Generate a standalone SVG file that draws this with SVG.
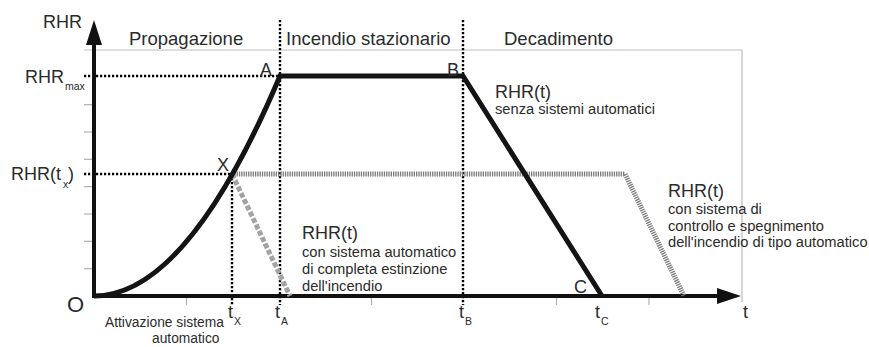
<svg xmlns="http://www.w3.org/2000/svg" width="869" height="347" viewBox="0 0 869 347">
<style>
text{font-family:"Liberation Sans",Arial,sans-serif;fill:#2b2b2b}
.ph{font-size:18.5px}
.big{font-size:18px}
.sm{font-size:14.7px}
.sub{font-size:10.5px}
.frame{stroke:#bdbdbd;stroke-width:1.2;fill:none}
.tick{stroke:#b0b0b0;stroke-width:1.2}
.dot{stroke:#000;stroke-width:2.4;stroke-dasharray:2.2 1.8;fill:none}
.thick{stroke:#141414;stroke-width:5;fill:none;stroke-linejoin:miter}
.axis{stroke:#111;stroke-width:4;fill:none}
</style>
<g id="frame">
<path class="frame" d="M84 50 H742 V302"/>
<g class="tick">
<line x1="84" y1="268.7" x2="93" y2="268.7"/>
<line x1="84" y1="241.3" x2="93" y2="241.3"/>
<line x1="84" y1="214" x2="93" y2="214"/>
<line x1="84" y1="186.7" x2="93" y2="186.7"/>
<line x1="84" y1="159.3" x2="93" y2="159.3"/>
<line x1="84" y1="132" x2="93" y2="132"/>
<line x1="84" y1="104.7" x2="93" y2="104.7"/>
<line x1="186.5" y1="297" x2="186.5" y2="305"/>
<line x1="371.5" y1="297" x2="371.5" y2="305"/>
<line x1="556.5" y1="297" x2="556.5" y2="305"/>
<line x1="649" y1="297" x2="649" y2="305"/>
</g>
</g>
<g id="guides">
<line class="dot" x1="84" y1="76" x2="280" y2="76"/>
<line class="dot" x1="84" y1="174" x2="232" y2="174"/>
<line class="dot" x1="280" y1="20" x2="280" y2="305"/>
<line class="dot" x1="463" y1="20" x2="463" y2="305"/>
<line class="dot" x1="232" y1="174" x2="232" y2="305"/>
</g>
<g id="axes">
<line class="axis" x1="94" y1="298" x2="94" y2="40"/>
<polygon points="94,20 86,45 102,45" fill="#111"/>
<line class="axis" x1="92" y1="296" x2="722" y2="296"/>
<polygon points="741,296 717,288 717,304" fill="#111"/>
</g>
<g id="curves">
<path id="curve-auto-control" d="M232 174 H625 L684 296" fill="none" stroke="#7a7a7a" stroke-width="5" stroke-dasharray="1.3 1"/>
<path id="curve-auto-extinction" d="M232 174 L290 296" fill="none" stroke="#a3a3a3" stroke-width="5" stroke-dasharray="5 2"/>
<path id="curve-no-system" class="thick" d="M94 296 Q187 296 280 76 H463 L602 296"/>
</g>
<g id="labels">
<text class="big" x="43" y="28">RHR</text>
<text class="ph" x="129" y="45">Propagazione</text>
<text class="ph" x="286" y="45">Incendio stazionario</text>
<text class="ph" x="504" y="45">Decadimento</text>
<text class="big" x="25" y="83">RHR</text>
<text class="sub" x="65" y="90">max</text>
<text class="big" x="11" y="180">RHR(t</text>
<text class="sub" x="63" y="188">x</text>
<text class="big" x="68" y="180">)</text>
<text class="big" x="260" y="76">A</text>
<text class="big" x="447" y="76">B</text>
<text class="big" x="217" y="171">X</text>
<text class="big" x="574" y="293">C</text>
<text x="67" y="312" style="font-size:22px">O</text>
<text class="big" x="228" y="318">t</text>
<text class="sub" x="234" y="325">X</text>
<text class="big" x="275" y="318">t</text>
<text class="sub" x="281" y="325">A</text>
<text class="big" x="459" y="318">t</text>
<text class="sub" x="465" y="325">B</text>
<text class="big" x="595" y="318">t</text>
<text class="sub" x="601" y="325">C</text>
<text class="big" x="743" y="318">t</text>
<text x="105" y="327" style="font-size:13.8px">Attivazione sistema</text>
<text x="152" y="343" style="font-size:13.8px">automatico</text>
<text class="big" x="495" y="98">RHR(t)</text>
<text class="sm" x="495" y="114">senza sistemi automatici</text>
<text class="big" x="302" y="239">RHR(t)</text>
<text class="sm" x="302" y="257">con sistema automatico</text>
<text class="sm" x="302" y="274">di completa estinzione</text>
<text class="sm" x="302" y="291">dell'incendio</text>
<text class="big" x="668" y="197">RHR(t)</text>
<text class="sm" x="668" y="214">con sistema di</text>
<text class="sm" x="668" y="231">controllo e spegnimento</text>
<text class="sm" x="668" y="247">dell'incendio di tipo automatico</text>
</g>
</svg>
